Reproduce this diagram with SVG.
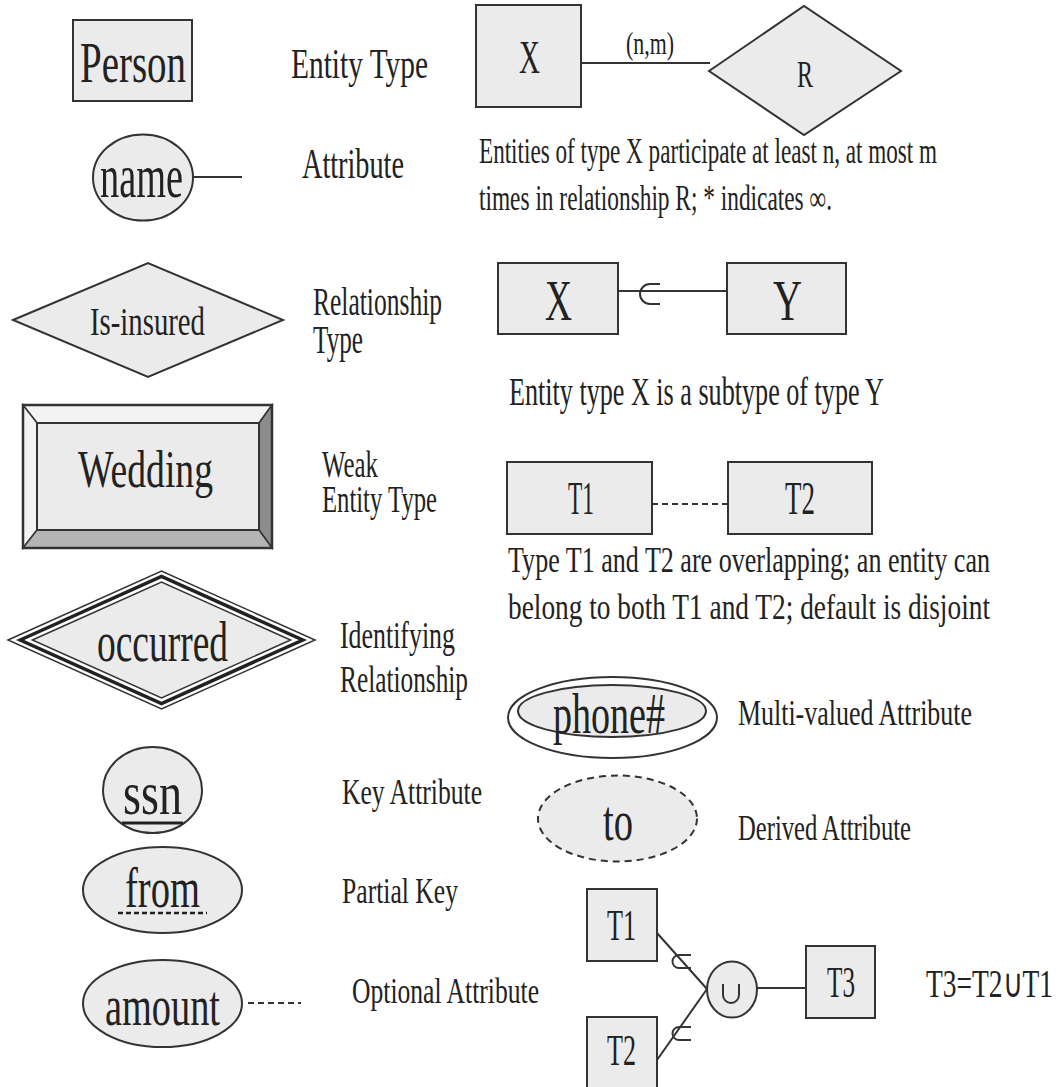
<svg xmlns="http://www.w3.org/2000/svg" width="1059" height="1087" viewBox="0 0 1059 1087">
<style>
text{fill:#222;}
.s{fill:#ebebeb;stroke:#333;stroke-width:2;}
.ln{stroke:#333;stroke-width:2;fill:none;}
.dash{stroke:#333;stroke-width:2;fill:none;stroke-dasharray:6 4;}
</style>
<rect width="1059" height="1087" fill="#fff"/>
<g font-family="Liberation Serif, Times New Roman, serif" lengthAdjust="spacingAndGlyphs">
<g id="person">
<rect class="s" x="73" y="20" width="119" height="81"/>
<text x="80" y="82" font-size="56" textLength="106" lengthAdjust="spacingAndGlyphs">Person</text>
</g>
<text x="291" y="78" font-size="42" textLength="137" lengthAdjust="spacingAndGlyphs">Entity Type</text>

<g id="name">
<ellipse class="s" cx="143" cy="177.5" rx="50" ry="43"/>
<text x="100" y="197" font-size="62" textLength="83" lengthAdjust="spacingAndGlyphs">name</text>
</g>
<text x="302" y="178" font-size="42" textLength="102" lengthAdjust="spacingAndGlyphs">Attribute</text>

<g id="x1">
<rect class="s" x="476" y="5" width="105" height="102"/>
<text x="519" y="73" font-size="47" textLength="21" lengthAdjust="spacingAndGlyphs">X</text>
</g>
<g id="r1">
<polygon class="s" points="709,71 804,6 901,71 804,135"/>
<text x="797" y="87" font-size="38" textLength="16" lengthAdjust="spacingAndGlyphs">R</text>
</g>
<text x="626" y="54" font-size="32" textLength="48" lengthAdjust="spacingAndGlyphs">(n,m)</text>
<text x="479" y="163" font-size="35" textLength="458" lengthAdjust="spacingAndGlyphs">Entities of type X participate at least n, at most m</text>
<text x="479" y="210" font-size="35" textLength="353" lengthAdjust="spacingAndGlyphs">times in relationship R; * indicates ∞.</text>

<g id="isinsured">
<polygon class="s" points="13,320 148,263 283,320 148,377"/>
<text x="90" y="335" font-size="41" textLength="115" lengthAdjust="spacingAndGlyphs">Is-insured</text>
</g>
<text x="313" y="315" font-size="40" textLength="129" lengthAdjust="spacingAndGlyphs">Relationship</text>
<text x="313" y="353" font-size="40" textLength="50" lengthAdjust="spacingAndGlyphs">Type</text>

<g id="x2">
<rect class="s" x="498" y="263" width="120" height="71"/>
<text x="545" y="320" font-size="57" textLength="27" lengthAdjust="spacingAndGlyphs">X</text>
</g>
<g id="y2">
<rect class="s" x="727" y="263" width="119" height="71"/>
<text x="773" y="320" font-size="57" textLength="29" lengthAdjust="spacingAndGlyphs">Y</text>
</g>
<text x="509" y="405" font-size="39" textLength="375" lengthAdjust="spacingAndGlyphs">Entity type X is a subtype of type Y</text>

<g id="wedding">
<rect x="23" y="405" width="249" height="143" fill="#ebebeb"/>
<polygon points="23,405 272,405 259,423 37,423" fill="#f3f3f3" stroke="#333" stroke-width="1.5"/>
<polygon points="23,405 37,423 37,530 23,548" fill="#f3f3f3" stroke="#333" stroke-width="1.5"/>
<polygon points="272,405 272,548 259,530 259,423" fill="#8c8c8c" stroke="#333" stroke-width="1.5"/>
<polygon points="23,548 37,530 259,530 272,548" fill="#b4b4b4" stroke="#333" stroke-width="1.5"/>
<rect x="37" y="423" width="222" height="107" fill="#ebebeb" stroke="#333" stroke-width="2"/>
<rect x="23" y="405" width="249" height="143" fill="none" stroke="#333" stroke-width="2.5"/>
<text x="78" y="487" font-size="53" textLength="135" lengthAdjust="spacingAndGlyphs">Wedding</text>
</g>
<text x="322" y="477" font-size="38" textLength="56" lengthAdjust="spacingAndGlyphs">Weak</text>
<text x="322" y="512" font-size="38" textLength="115" lengthAdjust="spacingAndGlyphs">Entity Type</text>

<g id="t1a">
<rect class="s" x="507" y="462" width="145" height="72"/>
<text x="568" y="514" font-size="46" textLength="26" lengthAdjust="spacingAndGlyphs">T1</text>
</g>
<g id="t2a">
<rect class="s" x="728" y="462" width="144" height="72"/>
<text x="785" y="514" font-size="46" textLength="30" lengthAdjust="spacingAndGlyphs">T2</text>
</g>
<text x="508" y="572" font-size="36" textLength="482" lengthAdjust="spacingAndGlyphs">Type T1 and T2 are overlapping; an entity can</text>
<text x="508" y="619" font-size="36" textLength="482" lengthAdjust="spacingAndGlyphs">belong to both T1 and T2; default is disjoint</text>

<g id="occurred">
<polygon points="8,640 161.5,571 315,640 161.5,709" fill="#fff" stroke="#333" stroke-width="1.5"/>
<polygon points="20.2,640 161.5,576.5 302.8,640 161.5,703.5" fill="#fff" stroke="#222" stroke-width="3.5"/>
<polygon points="32.4,640 161.5,582 290.6,640 161.5,698" fill="#ebebeb" stroke="#333" stroke-width="1.5"/>
<text x="97" y="661" font-size="56" textLength="131" lengthAdjust="spacingAndGlyphs">occurred</text>
</g>
<text x="340" y="648" font-size="38" textLength="115" lengthAdjust="spacingAndGlyphs">Identifying</text>
<text x="340" y="692" font-size="38" textLength="128" lengthAdjust="spacingAndGlyphs">Relationship</text>

<g id="phone">
<ellipse cx="612.5" cy="717.5" rx="104.5" ry="40.5" fill="#fff" stroke="#333" stroke-width="2"/>
<ellipse class="s" cx="612" cy="711" rx="94" ry="26"/>
<text x="553" y="733" font-size="56" textLength="112" lengthAdjust="spacingAndGlyphs">phone#</text>
</g>
<text x="738" y="725" font-size="36" textLength="234" lengthAdjust="spacingAndGlyphs">Multi-valued Attribute</text>

<g id="to">
<ellipse cx="617.5" cy="818.5" rx="79.5" ry="43" fill="#ebebeb" stroke="#333" stroke-width="2" stroke-dasharray="7 5"/>
<text x="603" y="840" font-size="56" textLength="30" lengthAdjust="spacingAndGlyphs">to</text>
</g>
<text x="738" y="840" font-size="36" textLength="173" lengthAdjust="spacingAndGlyphs">Derived Attribute</text>

<g id="ssn">
<ellipse class="s" cx="152.5" cy="790" rx="49.5" ry="43"/>
<text x="123" y="814" font-size="62" textLength="59" lengthAdjust="spacingAndGlyphs">ssn</text>
<line x1="122" y1="823" x2="183" y2="823" stroke="#222" stroke-width="3"/>
</g>
<text x="342" y="804" font-size="36" textLength="140" lengthAdjust="spacingAndGlyphs">Key Attribute</text>

<g id="from">
<ellipse class="s" cx="162.5" cy="890" rx="79.5" ry="43"/>
<text x="125" y="907" font-size="56" textLength="75" lengthAdjust="spacingAndGlyphs">from</text>
<line x1="118" y1="913" x2="207" y2="913" stroke="#222" stroke-width="2.5" stroke-dasharray="5 3"/>
</g>
<text x="342" y="903" font-size="36" textLength="116" lengthAdjust="spacingAndGlyphs">Partial Key</text>

<g id="amount">
<ellipse class="s" cx="162.5" cy="1003.5" rx="79.5" ry="43.5"/>
<text x="105" y="1025" font-size="58" textLength="115" lengthAdjust="spacingAndGlyphs">amount</text>
</g>
<text x="352" y="1003" font-size="36" textLength="187" lengthAdjust="spacingAndGlyphs">Optional Attribute</text>

<g id="t1b">
<rect class="s" x="587" y="889" width="70" height="72"/>
<text x="607" y="940" font-size="44" textLength="29" lengthAdjust="spacingAndGlyphs">T1</text>
</g>
<g id="t2b">
<rect class="s" x="587" y="1017" width="70" height="80"/>
<text x="607" y="1065" font-size="44" textLength="29" lengthAdjust="spacingAndGlyphs">T2</text>
</g>
<g id="union">
<ellipse class="s" cx="732" cy="989.5" rx="25" ry="28"/>
<path class="ln" d="M723 984 V995 A8 8 0 0 0 739 995 V984" stroke-width="1.5"/>
</g>
<g id="t3">
<rect class="s" x="806" y="946" width="69" height="72"/>
<text x="827" y="997" font-size="44" textLength="28" lengthAdjust="spacingAndGlyphs">T3</text>
</g>
<text x="926" y="997" font-size="40" textLength="127" lengthAdjust="spacingAndGlyphs">T3=T2∪T1</text>
</g>
<g id="connectors">
<line class="ln" x1="193" y1="177" x2="242" y2="177"/>
<line class="ln" x1="581" y1="63" x2="710" y2="63"/>
<line class="ln" x1="618" y1="291" x2="727" y2="291"/>
<path class="ln" d="M660 284 H650 A10 10 0 0 0 650 304 H660"/>
<line class="dash" x1="652" y1="504" x2="728" y2="504"/>
<line class="dash" x1="248" y1="1003" x2="301" y2="1003"/>
<line class="ln" x1="657" y1="933" x2="707" y2="989"/>
<line class="ln" x1="657" y1="1060" x2="707" y2="989"/>
<line class="ln" x1="757" y1="988" x2="806" y2="988"/>
<path class="ln" d="M691 955 H679 A6.5 6.5 0 0 0 679 968 H691" stroke-width="3"/>
<path class="ln" d="M691 1027 H679 A6.5 6.5 0 0 0 679 1040 H691" stroke-width="3"/>
</g>
</svg>
